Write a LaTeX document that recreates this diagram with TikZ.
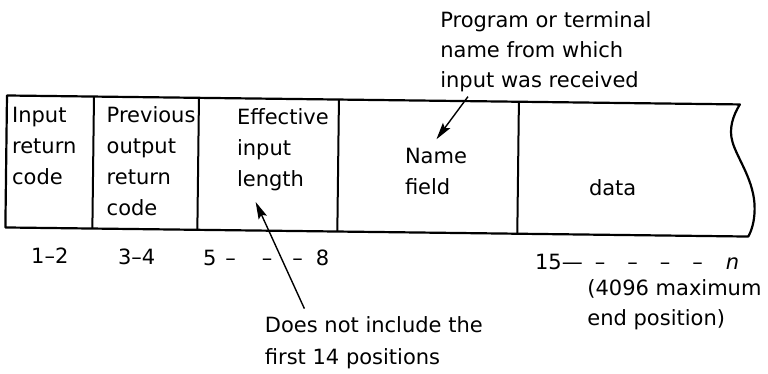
\documentclass[tikz,border=0pt]{standalone}
\usepackage{fontspec}
\setmainfont{DejaVu Sans}
\usetikzlibrary{arrows.meta}
\begin{document}
\begin{tikzpicture}[x=1pt,y=-1pt,
  lbl/.style={inner sep=0pt, align=left, anchor=base west, font=\fontsize{21}{31}\selectfont},
  lbltop/.style={lbl, font=\fontsize{21}{30}\selectfont},
  frame/.style={line width=2.2pt, line join=round},
  divider/.style={line width=2pt},
  arr/.style={line width=1.4pt, -{Stealth[length=17pt,width=9pt,inset=3pt]}},
]
\useasboundingbox (0,0) rectangle (768,374);
\begin{scope}[rotate around={-0.7:(7,95)}]
  % record frame with torn right edge
  \coordinate (tl) at (7,95.5);
  \coordinate (tr) at (740,95.5);
  \coordinate (br) at (750,227.5);
  \coordinate (bl) at (7,227.5);
  \draw[frame] (tl) -- (tr)
     .. controls (733,107) and (729,120) .. (733,133)
     .. controls (738,150) and (756,172) .. (756,200)
     .. controls (756,213) and (753,222) .. (br)
     -- (bl) -- cycle;
  % dividers
  \foreach \x/\n in {94/d1,199/d2,339/d3,519/d4}{
    \coordinate (\n t) at (\x,95.5);
    \coordinate (\n b) at (\x,227.5);
    \draw[divider] (\n t) -- (\n b);
  }
  % field texts (base anchor = baseline of the last line)
  \node[lbl] (f1) at (13,184) {Input\\return\\code};
  \node[lbl] (f2) at (108,214) {Previous\\output\\return\\code};
  \node[lbl] (f3) at (238,184) {Effective\\input\\length};
  \node[lbl] (f4) at (406,190) {Name\\field};
  \node[lbl] (f5) at (590,188) {data};
  % positions
  \node[lbl] (p1) at (33,263) {1–2};
  \node[lbl] (p2) at (120,263) {3–4};
  \node[lbl] (p3) at (205,263) {5\hspace{9pt}–\hspace{26pt}–\hspace{20pt}–\hspace{13pt}8};
  \node[lbl] (p4) at (537,263) {15—\hspace{12pt}–\hspace{22pt}–\hspace{22pt}–\hspace{22pt}–\hspace{23pt}\textit{n}};
  % notes
  \node[lbltop] (top) at (440,82) {Program or terminal\\name from which\\input was received};
  \node[lbl, font=\fontsize{21}{32}\selectfont] (note1) at (268,361) {Does not include the\\first 14 positions};
  \node[lbltop] (note2) at (590,318) {(4096 maximum\\end position)};
  % pointers
  \coordinate (a1s) at (468,91);
  \coordinate (a1e) at (437,134);
  \coordinate (a2s) at (307,305);
  \coordinate (a2e) at (257,199);
  \draw[arr] (a1s) -- (a1e);
  \draw[arr] (a2s) -- (a2e);
\end{scope}
\end{tikzpicture}
\end{document}
